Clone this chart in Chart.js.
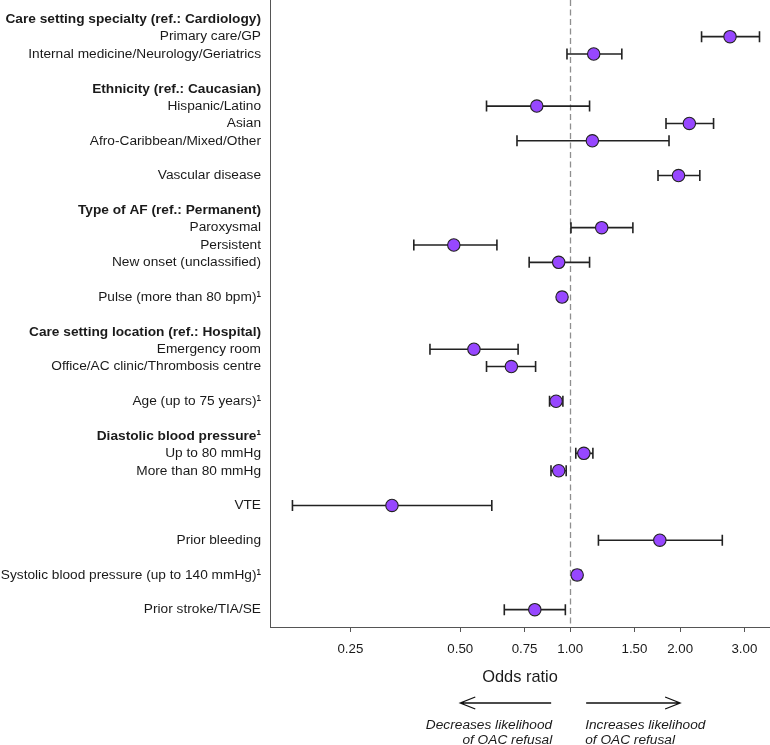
<!DOCTYPE html>
<html>
<head>
<meta charset="utf-8">
<script src="https://cdn.jsdelivr.net/npm/chart.js@4.4.1/dist/chart.umd.min.js"></script>
<style>
  html, body { margin: 0; padding: 0; background: #fff; }
  #wrap { width: 770px; height: 745px; position: relative; }
</style>
</head>
<body>
<div id="wrap"><canvas id="c" width="770" height="745"></canvas></div>
<script>
// ---- Data ----
const rowLabels = [
  'Care setting specialty (ref.: Cardiology)', 'Primary care/GP', 'Internal medicine/Neurology/Geriatrics', '',
  'Ethnicity (ref.: Caucasian)', 'Hispanic/Latino', 'Asian', 'Afro-Caribbean/Mixed/Other', '',
  'Vascular disease', '',
  'Type of AF (ref.: Permanent)', 'Paroxysmal', 'Persistent', 'New onset (unclassified)', '',
  'Pulse (more than 80 bpm)\u00B9', '',
  'Care setting location (ref.: Hospital)', 'Emergency room', 'Office/AC clinic/Thrombosis centre', '',
  'Age (up to 75 years)\u00B9', '',
  'Diastolic blood pressure\u00B9', 'Up to 80 mmHg', 'More than 80 mmHg', '',
  'VTE', '',
  'Prior bleeding', '',
  'Systolic blood pressure (up to 140 mmHg)\u00B9', '',
  'Prior stroke/TIA/SE'
];
const headerRows = [0, 4, 11, 18, 24];
const oddsRatio = [null, 2.74, 1.16, null, null, 0.81, 2.12, 1.15, null, 1.98, null, null, 1.22, 0.48, 0.93, null, 0.95, null, null, 0.545, 0.69, null, 0.915, null, null, 1.09, 0.93, null, 0.325, null, 1.76, null, 1.045, null, 0.80];
const ciLower   = [null, 2.29, 0.98, null, null, 0.59, 1.83, 0.715, null, 1.74, null, null, 1.005, 0.373, 0.772, null, 0.93, null, null, 0.413, 0.59, null, 0.878, null, null, 1.036, 0.886, null, 0.1735, null, 1.195, null, 1.02, null, 0.66];
const ciUpper   = [null, 3.30, 1.385, null, null, 1.13, 2.47, 1.865, null, 2.265, null, null, 1.485, 0.63, 1.13, null, 0.97, null, null, 0.72, 0.804, null, 0.955, null, null, 1.154, 0.975, null, 0.61, null, 2.61, null, 1.07, null, 0.97];
const xTickValues = [0.25, 0.5, 0.75, 1, 1.5, 2, 3];

const FONT = 'Liberation Sans, Arial, Helvetica, sans-serif';
const TEXT = '#1a1a1a';
const AXIS = '#555555';

const points = [];
oddsRatio.forEach((v, i) => { if (v !== null) points.push({ x: v, y: i, lo: ciLower[i], hi: ciUpper[i] }); });

function zeroPad(s) { s.paddingTop = 0; s.paddingBottom = 0; s.paddingLeft = 0; s.paddingRight = 0; }

const forestPlugin = {
  id: 'forest',
  beforeDatasetsDraw(chart) {
    const { ctx, chartArea, scales } = chart;
    const xs = scales.x, ys = scales.y;
    ctx.save();
    ctx.strokeStyle = '#8f8f8f';
    ctx.lineWidth = 1.3;
    ctx.setLineDash([6, 3.5]);
    const x1 = Math.round(xs.getPixelForValue(1)) + 0.5;
    ctx.beginPath();
    ctx.moveTo(x1, chartArea.top);
    ctx.lineTo(x1, chartArea.bottom);
    ctx.stroke();
    ctx.restore();
    ctx.save();
    ctx.strokeStyle = '#222222';
    ctx.lineWidth = 1.6;
    const cap = 5.5;
    points.forEach(p => {
      const y = ys.getPixelForValue(p.y);
      const xl = xs.getPixelForValue(p.lo), xh = xs.getPixelForValue(p.hi);
      ctx.beginPath();
      ctx.moveTo(xl, y); ctx.lineTo(xh, y);
      ctx.moveTo(xl, y - cap); ctx.lineTo(xl, y + cap);
      ctx.moveTo(xh, y - cap); ctx.lineTo(xh, y + cap);
      ctx.stroke();
    });
    ctx.restore();
  },
  afterDraw(chart) {
    const { ctx, chartArea, scales } = chart;
    const xs = scales.x;
    const b = chartArea.bottom;
    const ya = b + 76;
    const lTip = xs.getPixelForValue(0.5), lTail = xs.getPixelForValue(0.887);
    const rTail = xs.getPixelForValue(1.106), rTip = xs.getPixelForValue(2);
    ctx.save();
    ctx.strokeStyle = '#111';
    ctx.lineWidth = 1.3;
    const hl = 15, hw = 6;
    ctx.beginPath();
    ctx.moveTo(lTail, ya); ctx.lineTo(lTip, ya);
    ctx.moveTo(lTip + hl, ya - hw); ctx.lineTo(lTip, ya); ctx.lineTo(lTip + hl, ya + hw);
    ctx.moveTo(rTail, ya); ctx.lineTo(rTip, ya);
    ctx.moveTo(rTip - hl, ya - hw); ctx.lineTo(rTip, ya); ctx.lineTo(rTip - hl, ya + hw);
    ctx.stroke();
    ctx.fillStyle = TEXT;
    ctx.font = 'italic 13.7px ' + FONT;
    ctx.textBaseline = 'middle';
    ctx.textAlign = 'right';
    ctx.fillText('Decreases likelihood', lTail + 1, b + 98);
    ctx.fillText('of OAC refusal', lTail + 1, b + 113);
    ctx.textAlign = 'left';
    ctx.fillText('Increases likelihood', rTail - 1, b + 98);
    ctx.fillText('of OAC refusal', rTail - 1, b + 113);
    ctx.restore();
  }
};

new Chart(document.getElementById('c'), {
  type: 'scatter',
  data: {
    datasets: [{
      data: points,
      pointRadius: 6.2,
      pointHoverRadius: 6.2,
      pointBackgroundColor: '#9747ff',
      pointBorderColor: '#222222',
      pointBorderWidth: 1.1
    }]
  },
  options: {
    responsive: false,
    animation: false,
    layout: { padding: 0, autoPadding: false },
    plugins: { legend: { display: false }, tooltip: { enabled: false } },
    scales: {
      x: {
        type: 'logarithmic',
        min: 0.1506,
        max: 3.526,
        afterBuildTicks: (s) => { s.ticks = xTickValues.map(v => ({ value: v })); },
        afterFit: (s) => { s.height = 118; zeroPad(s); },
        ticks: {
          autoSkip: false, maxRotation: 0, padding: 9,
          color: TEXT, font: { family: FONT, size: 13.3 },
          callback: (v) => Number(v).toFixed(2)
        },
        grid: { drawOnChartArea: false, drawTicks: true, tickLength: 5, color: AXIS },
        border: { display: true, color: AXIS, width: 1 },
        title: {
          display: true, text: 'Odds ratio', color: TEXT,
          font: { family: FONT, size: 16.4 }, padding: { top: 0, bottom: 58 }
        }
      },
      y: {
        type: 'linear',
        reverse: true,
        min: -1.11,
        max: 35,
        afterBuildTicks: (s) => { s.ticks = rowLabels.map((_, i) => ({ value: i })); },
        afterFit: (s) => { s.width = 270; zeroPad(s); },
        ticks: {
          autoSkip: false, padding: 9, color: TEXT,
          font: (c) => ({ family: FONT, size: 13.7, weight: (c.tick && headerRows.includes(c.tick.value)) ? 'bold' : 'normal' }),
          callback: (v) => rowLabels[v] || ''
        },
        grid: { display: false, drawTicks: false },
        border: { display: true, color: AXIS, width: 1 }
      }
    }
  },
  plugins: [forestPlugin]
});
</script>
</body>
</html>
